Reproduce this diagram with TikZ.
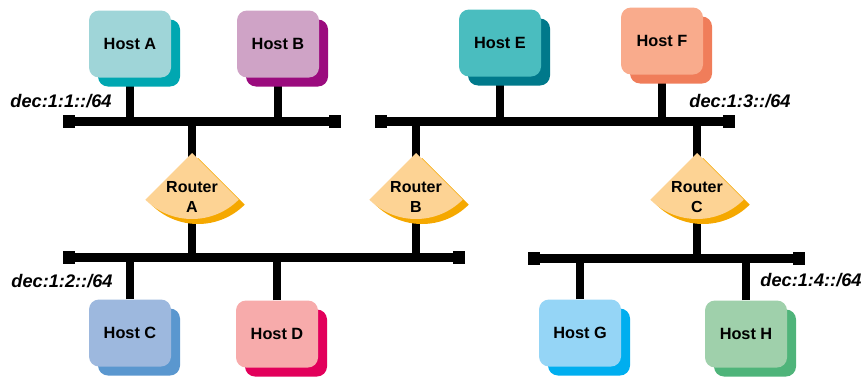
\documentclass[tikz,border=0pt]{standalone}
\usepackage{fontspec}
\setmainfont{Liberation Sans}
\usetikzlibrary{shadows,backgrounds}
\definecolor{hostAf}{HTML}{9FD5D8}\definecolor{hostAs}{HTML}{00A7B1}
\definecolor{hostBf}{HTML}{CFA3C6}\definecolor{hostBs}{HTML}{9B0B7E}
\definecolor{hostCf}{HTML}{9DB8DE}\definecolor{hostCs}{HTML}{5A97CF}
\definecolor{hostDf}{HTML}{F7ABAB}\definecolor{hostDs}{HTML}{E2005B}
\definecolor{hostEf}{HTML}{4ABDBF}\definecolor{hostEs}{HTML}{00798B}
\definecolor{hostFf}{HTML}{F9AB8C}\definecolor{hostFs}{HTML}{F07D5A}
\definecolor{hostGf}{HTML}{95D5F6}\definecolor{hostGs}{HTML}{00AEEF}
\definecolor{hostHf}{HTML}{9FD0AB}\definecolor{hostHs}{HTML}{4FB47A}
\definecolor{routerf}{HTML}{FDD394}\definecolor{routers}{HTML}{F5A800}
\tikzset{
  host/.style={rounded corners=10pt,minimum width=82pt,minimum height=67pt,inner sep=0pt,
    font=\fontsize{16.3}{19}\selectfont\bfseries},
  router/.style={align=center,inner sep=0pt,font=\fontsize{16}{20}\selectfont\bfseries},
  net/.style={inner sep=0pt,font=\fontsize{18.2}{20}\selectfont\bfseries\itshape},
  bus/.style={line width=9pt},
  stub/.style={line width=7.5pt},
  busend/.style={fill=black,minimum width=12pt,minimum height=13pt,inner sep=0pt}
}
\begin{document}
\begin{tikzpicture}[x=1pt,y=1pt]
\useasboundingbox (0,0) rectangle (864,376);
% segments
\foreach \n/\x/\y in {tl1/69/255,tl2/335/255,tr1/381/255,tr2/729/255,
                      bl1/69/119,bl2/459/119,br1/534/118,br2/799/118}
  \node[busend] (\n) at (\x,\y) {};
\draw[bus] (tl1) -- (tl2);
\draw[bus] (tr1) -- (tr2);
\draw[bus] (bl1) -- (bl2);
\draw[bus] (br1) -- (br2);
% hosts
\foreach \n/\x/\y in {A/130/332,B/278/332,E/500/333,F/662/335,
                      C/130/43,D/277/42,G/580/43,H/746/42}
  \node[host,fill=host\n f,general shadow={fill=host\n s,shadow xshift=9pt,shadow yshift=-9pt}]
    (h\n) at (\x,\y) {Host \n};
% routers
\foreach \n/\x in {A/192,B/416,C/697}{
  \fill[routers] (\x+6,218) -- ++(225:66pt) arc[start angle=225,end angle=315,radius=66pt] -- cycle;
  \fill[routerf] (\x,223) -- ++(225:66pt) arc[start angle=225,end angle=315,radius=66pt] -- cycle;
  \node[router] (r\n) at (\x,179) {Router\\\n};
}
\begin{scope}[on background layer]
\foreach \h/\b in {A/tl1,B/tl1,E/tr1,F/tr1,C/bl1,D/bl1,G/br1,H/br1}
  \draw[stub] (h\h) -- (h\h |- \b);
\foreach \r/\a/\b in {A/tl1/bl1,B/tr1/bl1,C/tr1/br1}
  \draw[stub] (r\r |- \a) -- (r\r |- \b);
\end{scope}
% prefixes
\node[net] (n1) at (61,275) {dec:1:1::/64};
\node[net] (n3) at (740,275) {dec:1:3::/64};
\node[net] (n2) at (62,95) {dec:1:2::/64};
\node[net] (n4) at (811,96) {dec:1:4::/64};
\end{tikzpicture}
\end{document}
